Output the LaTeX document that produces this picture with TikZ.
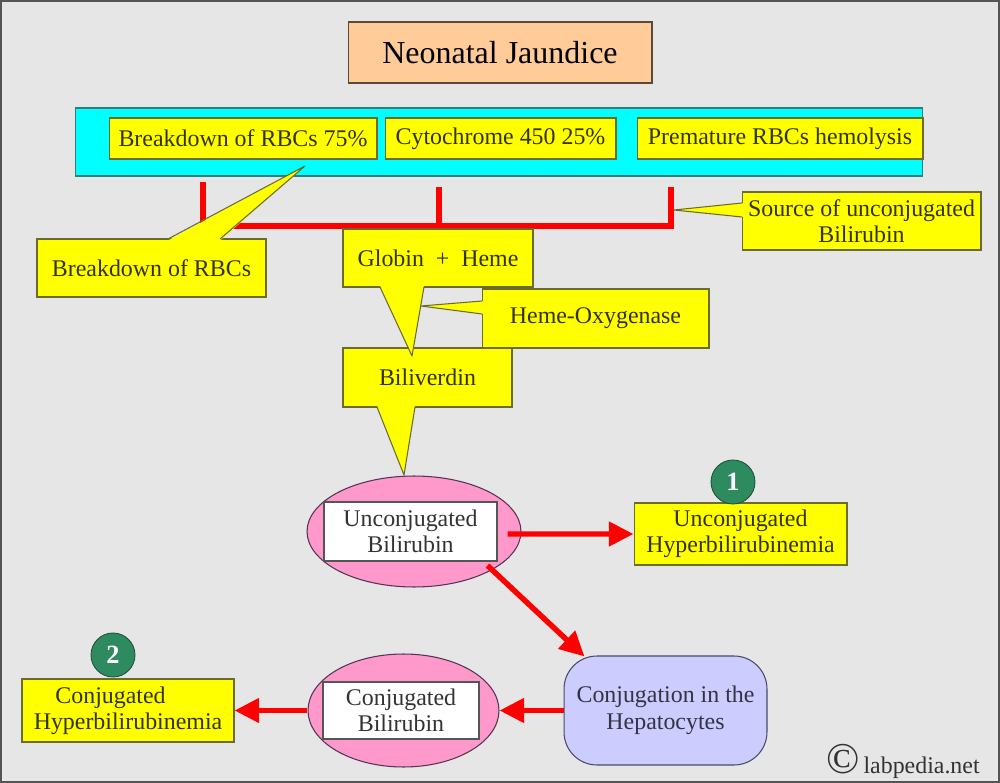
\documentclass[tikz,border=0pt]{standalone}
\usepackage{fontspec}
\setmainfont{Liberation Serif}
\usepackage{tikz}
\usetikzlibrary{arrows.meta,calc,shapes.geometric}
\definecolor{bggray}{HTML}{E6E6E6}
\definecolor{framegray}{HTML}{555555}
\definecolor{calloutyellow}{HTML}{FFFF00}
\definecolor{edgeolive}{HTML}{6B6B2E}
\definecolor{textolive}{HTML}{333300}
\definecolor{darktext}{HTML}{333333}
\definecolor{barcyan}{HTML}{00FFFF}
\definecolor{barcyanedge}{HTML}{2F7F7F}
\definecolor{peach}{HTML}{FFCC99}
\definecolor{peachedge}{HTML}{5A4A3A}
\definecolor{pinkfill}{HTML}{FF99CC}
\definecolor{pinkedge}{HTML}{553355}
\definecolor{lavender}{HTML}{CCCCFF}
\definecolor{lavenderedge}{HTML}{4A4A6A}
\definecolor{heptext}{HTML}{333344}
\definecolor{dotgreen}{HTML}{2E8B60}
\definecolor{pathred}{HTML}{FF0000}
\newcommand{\diagfont}{\fontsize{13.6}{14.8}\selectfont}

\tikzset{
  ybox/.style={draw=edgeolive,fill=calloutyellow,text=textolive,line width=0.6pt,
    inner sep=0pt,align=center,font=\diagfont},
  wbox/.style={draw=framegray,fill=white,text=darktext,line width=0.6pt,
    inner sep=0pt,align=center,font=\diagfont},
  pinkoval/.style={ellipse,draw=pinkedge,fill=pinkfill,line width=0.6pt,inner sep=0pt},
  numdot/.style={circle,draw=dotgreen!60!black,fill=dotgreen,text=white,line width=0.5pt,
    inner sep=0pt,minimum size=0.88cm,font=\fontsize{15}{15}\selectfont\bfseries},
  redarrow/.style={draw=pathred,line width=3.1pt,-{Triangle[length=14pt,width=13.5pt]}},
  bracket/.style={draw=pathred,line width=3.9pt},
}

\begin{document}
\begin{tikzpicture}[x=0.02cm,y=-0.02cm]
 \useasboundingbox (0,0) rectangle (1000,783);
 \fill[bggray] (0,0) rectangle (1000,783);
 \draw[framegray,line width=1.2pt] (1,1) rectangle (999,782);

 % title and sources
 \node[draw=peachedge,fill=peach,line width=0.6pt,minimum width=6.08cm,minimum height=1.22cm,
   font=\fontsize{18.2}{20}\selectfont] (title) at (500,52.5) {Neonatal Jaundice};
 \node[draw=barcyanedge,fill=barcyan,line width=0.6pt,minimum width=16.96cm,minimum height=1.36cm] (bar) at (499,142) {};
 \node[ybox,minimum width=5.36cm,minimum height=0.82cm] (rbc) at (243,138.5) {Breakdown of RBCs 75\%};
 \node[ybox,minimum width=4.62cm,minimum height=0.82cm] (cyto) at (500.5,138.5) {Cytochrome 450 25\%};
 \node[ybox,minimum width=5.72cm,minimum height=0.82cm] (prem) at (780,138.5) {Premature RBCs hemolysis};

 % red bracket
 \coordinate (t1) at (203,182);
 \coordinate (t2) at (439,187);
 \coordinate (t3) at (671,187);
 \coordinate (j1) at (203,226);
 \coordinate (j2) at (439,226);
 \coordinate (j3) at (671,226);
 \draw[bracket] (t1) -- (j1) -- (j3) -- (t3);
 \draw[bracket] (t2) -- (j2);

 % callouts
 \node[ybox,minimum width=4.58cm,minimum height=1.16cm] (brk) at (151.5,268) {Breakdown of RBCs};
 \node[ybox,minimum width=4.78cm,minimum height=1.16cm] (src) at (861.5,221) {Source of unconjugated\\Bilirubin};
 \node[ybox,minimum width=3.38cm,minimum height=1.18cm] (bv) at (427.5,377.5) {Biliverdin};
 \node[ybox,minimum width=3.8cm,minimum height=1.16cm] (glob) at (438,258) {Globin\ \ +\ \ Heme};
 \node[ybox,minimum width=4.54cm,minimum height=1.18cm] (hox) at (595.5,318.5) {Heme-Oxygenase};
 \foreach \ax/\ay/\bx/\by/\tx/\ty/\dx/\dy in {
   168/239/220/239/305/166/0/1.5,
   742/203/742/217/674/210/1.5/0,
   377/407/415/407/404/475/0/-1.5,
   380/287/424/287/412/356/0/-1.5,
   482/301/482/314/421/306/1.5/0} {
  \fill[calloutyellow] (\ax+\dx,\ay+\dy) -- (\tx,\ty) -- (\bx+\dx,\by+\dy) -- cycle;
  \draw[edgeolive,line width=0.6pt,line join=round] (\ax,\ay) -- (\tx,\ty) -- (\bx,\by);
 }

 % bilirubin path
 \node[pinkoval,minimum width=4.28cm,minimum height=2.22cm] (ub) at (414,531.5) {};
 \node[wbox,minimum width=3.46cm,minimum height=1.18cm] (ubt) at (410.5,531.5) {Unconjugated\\Bilirubin};
 \node[ybox,minimum width=4.26cm,minimum height=1.24cm] (uhb) at (740.5,534) {Unconjugated\\Hyperbilirubinemia};
 \node[numdot] (n1) at (733,482) {1};
 \node[draw=lavenderedge,fill=lavender,text=heptext,line width=0.6pt,rounded corners=0.66cm,
   inner sep=0pt,align=center,font=\fontsize{13.6}{15.4}\selectfont,minimum width=4.06cm,minimum height=2.18cm] (hep) at (665.5,710.5)
   {Conjugation in the\\Hepatocytes};
 \node[pinkoval,minimum width=3.82cm,minimum height=2.26cm] (cb) at (403.5,710.5) {};
 \node[wbox,minimum width=3.12cm,minimum height=1.14cm] (cbt) at (401,710.5) {Conjugated\\Bilirubin};
 \node[ybox,minimum width=4.24cm,minimum height=1.26cm] (chb) at (128,710.5) {Conjugated\hspace*{0.7cm}\\Hyperbilirubinemia};
 \node[numdot] (n2) at (113,655) {2};

 \draw[redarrow] ($(ubt.east)+(10,2.5)$) -- (uhb.west);
 \draw[redarrow] ($(ubt.south east)+(-10,4)$) -- ($(hep.north west)+(21,1)$);
 \draw[redarrow] (hep.west) -- (cb.east);
 \draw[redarrow] (cb.west) -- (chb.east);

 \node[anchor=base east,text=darktext,font=\diagfont,inner sep=0pt] (credit) at (980,773)
   {{\fontsize{25}{25}\selectfont\textcopyright}\,labpedia.net};
\end{tikzpicture}
\end{document}
